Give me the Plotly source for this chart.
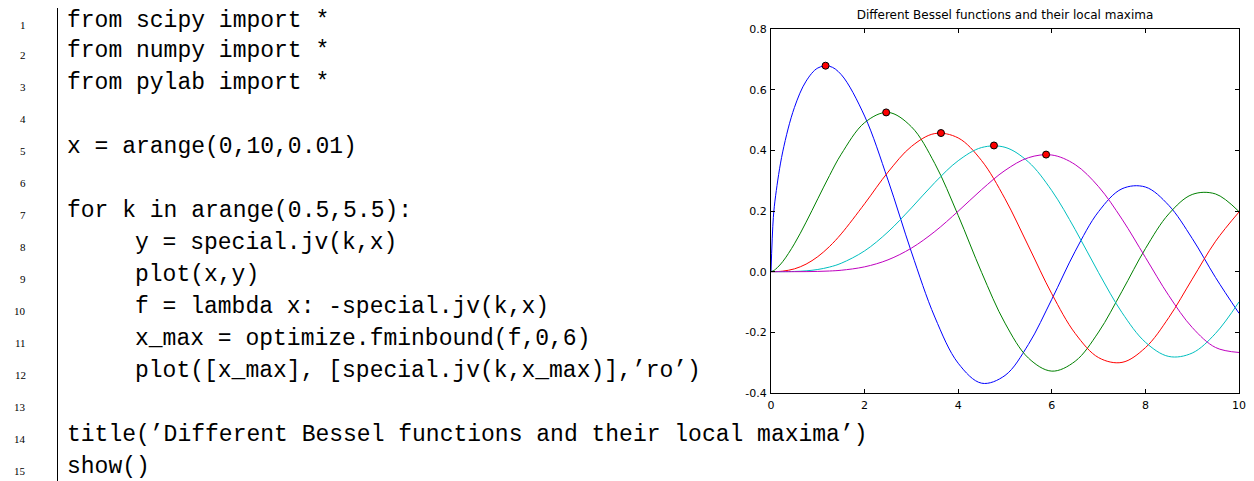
import plotly.graph_objects as go

# ---- data ----
x_vals = [0, 0.05, 0.1, 0.25, 0.5, 0.75, 1.0, 1.25, 1.5, 2.0, 2.5, 3.0, 3.5, 4.0,
          4.5, 5.0, 5.5, 6.0, 6.5, 7.0, 7.5, 8.0, 8.5, 9.0, 9.5, 10.0]
j05 = [0, 0.1783, 0.2519, 0.3948, 0.5410, 0.6280, 0.6714, 0.6772, 0.6498, 0.5130,
       0.3020, 0.0650, -0.1496, -0.3019, -0.3677, -0.3422, -0.2400, -0.0910,
       0.0673, 0.1981, 0.2733, 0.2791, 0.2185, 0.1096, -0.0195, -0.1373]
j15 = [0, 0.0030, 0.0084, 0.0330, 0.0917, 0.1632, 0.2403, 0.3168, 0.3871, 0.4913,
       0.5251, 0.4777, 0.3566, 0.1853, -0.0024, -0.1697, -0.2848, -0.3279,
       -0.2953, -0.1991, -0.0646, 0.0759, 0.1905, 0.2545, 0.2561, 0.1980]
j25 = [0, 0.0000, 0.0002, 0.0017, 0.0092, 0.0249, 0.0495, 0.0830, 0.1245, 0.2239,
       0.3281, 0.4127, 0.4553, 0.4409, 0.3661, 0.2404, 0.0847, -0.0730, -0.2036,
       -0.2834, -0.2991, -0.2506, -0.1513, -0.0248, 0.1003, 0.1967]
j35 = [0, 0, 0, 0.0000, 0.0007, 0.0027, 0.0072, 0.0152, 0.0277, 0.0685, 0.1311,
       0.2101, 0.2938, 0.3658, 0.4092, 0.4100, 0.3618, 0.2671, 0.1387, -0.0034,
       -0.1349, -0.2326, -0.2795, -0.2683, -0.2033, -0.0997]
j45 = [0, 0, 0, 0, 0.0000, 0.0002, 0.0008, 0.0022, 0.0047, 0.0159, 0.0390, 0.0776,
       0.1323, 0.1993, 0.2704, 0.3337, 0.3757, 0.3846, 0.3529, 0.2800, 0.1732,
       0.0471, -0.0789, -0.1839, -0.2501, -0.2664]
series = [j05, j15, j25, j35, j45]
colors = ["#0000ff", "#008000", "#ff0000", "#00bfbf", "#bf00bf"]

max_x = [1.166, 2.461, 3.632, 4.764, 5.878]
max_y = [0.679, 0.525, 0.457, 0.416, 0.386]

x_ticks = [0, 2, 4, 6, 8, 10]
x_tick_text = ["0", "2", "4", "6", "8", "10"]
y_ticks = [-0.4, -0.2, 0.0, 0.2, 0.4, 0.6, 0.8]
y_tick_text = ["-0.4", "-0.2", "0.0", "0.2", "0.4", "0.6", "0.8"]

title_text = "Different Bessel functions and their local maxima"

code_lines = [
    "from scipy import *",
    "from numpy import *",
    "from pylab import *",
    "",
    "x = arange(0,10,0.01)",
    "",
    "for k in arange(0.5,5.5):",
    "y = special.jv(k,x)",
    "plot(x,y)",
    "f = lambda x: -special.jv(k,x)",
    "x_max = optimize.fminbound(f,0,6)",
    "plot([x_max], [special.jv(k,x_max)],\u2019ro\u2019)",
    "",
    "title(\u2019Different Bessel functions and their local maxima\u2019)",
    "show()",
]
code_indent = [0, 0, 0, 0, 0, 0, 0, 1, 1, 1, 1, 1, 0, 0, 0]

MONO = "'Liberation Mono', 'Courier New', Cousine, 'Nimbus Mono PS', FreeMono, monospace"
SERIF = "'Liberation Serif', 'Times New Roman', 'DejaVu Serif', serif"

# ---- geometry (screen pixels; page body adds an 8px offset) ----
W, H = 1254, 481
OFF = 8
L, R, T, B = 771 - OFF, 1239 - OFF, 29 - OFF, 393 - OFF
pw, ph = R - L, B - T

def px(x):
    return (x - OFF - L) / pw

def py(y):
    return (B - (y - OFF)) / ph

fig = go.Figure()
for i, (ys, c) in enumerate(zip(series, colors)):
    fig.add_trace(go.Scatter(x=x_vals, y=ys, mode="lines",
                             line=dict(color=c, width=1, shape="spline", smoothing=1.0),
                             showlegend=False, hoverinfo="skip"))
    fig.add_trace(go.Scatter(x=[max_x[i]], y=[max_y[i]], mode="markers",
                             marker=dict(color="#ff0000", size=7,
                                         line=dict(color="black", width=1)),
                             showlegend=False, cliponaxis=False))

annotations = []
for k, (txt, ind) in enumerate(zip(code_lines, code_indent)):
    yc = 19 + 32 * k
    if k == 0:
        yc = 21
    annotations.append(dict(x=px(28), y=py(yc + 4), xref="paper", yref="paper",
                            text=str(k + 1), showarrow=False, xanchor="right",
                            yanchor="middle",
                            font=dict(family=SERIF, size=11, color="black")))
    if txt:
        annotations.append(dict(x=px(135 if ind else 67) - 0.004, y=py(yc), xref="paper",
                                yref="paper", text=txt, showarrow=False,
                                xanchor="left", yanchor="middle",
                                font=dict(family=MONO, size=23, color="black")))

shapes = [dict(type="line", xref="paper", yref="paper", x0=px(57.5), x1=px(57.5),
               y0=py(0), y1=py(H + OFF), line=dict(color="black", width=1))]

axis_common = dict(showline=True, linecolor="black", linewidth=1, mirror="ticks",
                   ticks="inside", ticklen=4, tickcolor="black", tickwidth=1,
                   showgrid=False, zeroline=False,
                   tickfont=dict(family="DejaVu Sans", size=11, color="black"))

fig.update_layout(
    width=W, height=H, autosize=False,
    margin=dict(l=L, r=W - R, t=T, b=H - B, pad=0),
    paper_bgcolor="white", plot_bgcolor="white",
    title=dict(text=title_text, x=0.5, xref="paper", xanchor="center",
               y=1 - (15 - OFF) / H, yref="container", yanchor="middle",
               font=dict(family="DejaVu Sans", size=12, color="black")),
    xaxis=dict(range=[0, 10], tickvals=x_ticks, ticktext=x_tick_text,
               ticklabelstandoff=2, **axis_common),
    yaxis=dict(range=[-0.4, 0.8], tickvals=y_ticks, ticktext=y_tick_text,
               ticklabelstandoff=1, **axis_common),
    annotations=annotations, shapes=shapes,
)

fig.write_html("out.html")
